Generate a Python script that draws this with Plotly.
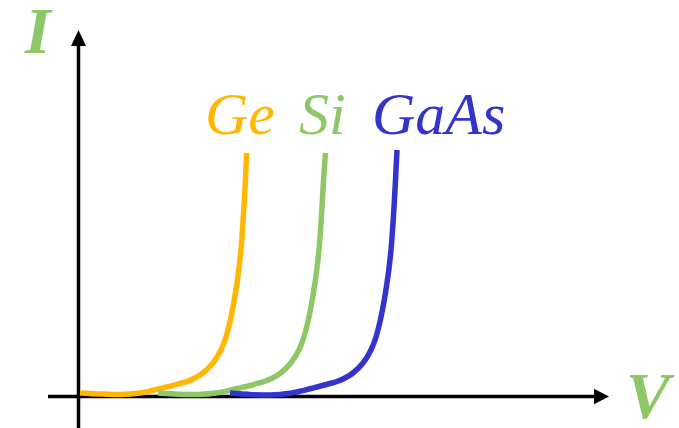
import plotly.graph_objects as go

# Forward-bias I-V characteristics (arbitrary units) for three diode materials
ge_v = [0.0075, 0.1075, 0.2075, 0.3075, 0.3575, 0.4075, 0.4425, 0.5075, 0.5425, 0.5825,
        0.6225, 0.6725, 0.7125, 0.7375, 0.7625, 0.7925, 0.8125, 0.824, 0.834, 0.841]
ge_i = [1.4, 1.0, 0.8, 1.4, 2.2, 3.2, 3.8, 5.2, 6.0, 7.4,
        9.4, 13.4, 18.6, 23.8, 31.8, 45.4, 58.6, 71.8, 85.4, 97.4]

si_v = [0.3975, 0.4975, 0.5975, 0.6975, 0.7475, 0.7975, 0.8325, 0.8975, 0.9325, 0.9725,
        1.0125, 1.0625, 1.1025, 1.1275, 1.1525, 1.1825, 1.2025, 1.2145, 1.2245, 1.2345]
si_i = [1.4, 0.9, 0.8, 1.5, 2.3, 3.3, 3.9, 5.3, 6.1, 7.5,
        9.5, 13.5, 18.7, 23.9, 31.9, 45.5, 58.7, 71.9, 85.5, 97.4]

gaas_v = [0.7575, 0.8575, 0.9575, 1.0575, 1.1075, 1.1575, 1.1925, 1.2575, 1.2925, 1.3325,
          1.3725, 1.4225, 1.4625, 1.4875, 1.5125, 1.5425, 1.5625, 1.5745, 1.5845, 1.5925]
gaas_i = [1.4, 0.8, 0.6, 1.3, 2.1, 3.1, 3.8, 5.2, 6.0, 7.4,
          9.4, 13.4, 18.6, 23.8, 31.8, 45.4, 58.6, 71.8, 85.8, 98.6]

series = [
    ("Ge", ge_v, ge_i, "#FFB703"),
    ("Si", si_v, si_i, "#8DC767"),
    ("GaAs", gaas_v, gaas_i, "#3434CC"),
]

AXIS_GREEN = "#8DC767"
X_RANGE = [-0.3925, 3.0025]
Y_RANGE = [-12.6, 158.6]

fig = go.Figure()

for name, v, i, color in series:
    fig.add_trace(go.Scatter(
        x=v, y=i, mode="lines", name=name,
        line=dict(color=color, width=5.5, shape="spline", smoothing=0.8),
        hoverinfo="skip", showlegend=False,
    ))

# Axis lines with arrowheads
shapes = [
    dict(type="line", xref="x", yref="y", x0=-0.1525, y0=0, x1=2.59, y1=0,
         line=dict(color="black", width=3.5), layer="below"),
    dict(type="line", xref="x", yref="y", x0=0, y0=-12.6, x1=0, y1=141,
         line=dict(color="black", width=3.5), layer="below"),
    dict(type="path", xref="x", yref="y",
         path="M 2.5775 -3.1 L 2.6525 0 L 2.5775 3.1 Z",
         fillcolor="black", line=dict(width=0)),
    dict(type="path", xref="x", yref="y",
         path="M -0.0375 140.2 L 0 146.6 L 0.0375 140.2 Z",
         fillcolor="black", line=dict(width=0)),
]

serif = "Liberation Serif"

annotations = [
    dict(x=-0.2025, y=146.5, xref="x", yref="y", text="I", showarrow=False,
         font=dict(family=serif, size=66, color=AXIS_GREEN, weight="bold", style="italic"),
         xanchor="center", yanchor="middle"),
    dict(x=2.86, y=0.5, xref="x", yref="y", text="V", showarrow=False,
         font=dict(family=serif, size=66, color=AXIS_GREEN, weight="bold", style="italic"),
         xanchor="center", yanchor="middle"),
]

label_pos = {"Ge": 0.6225, "Si": 1.0925, "GaAs": 1.4575}
for name, v, i, color in series:
    annotations.append(dict(
        x=label_pos[name], y=113, xref="x", yref="y", text=name,
        showarrow=False, font=dict(family=serif, size=60, color=color, style="italic"),
        xanchor="left", yanchor="middle",
    ))

fig.update_layout(
    width=679, height=428,
    margin=dict(l=0, r=0, t=0, b=0),
    paper_bgcolor="white", plot_bgcolor="white",
    xaxis=dict(range=X_RANGE, visible=False, fixedrange=True),
    yaxis=dict(range=Y_RANGE, visible=False, fixedrange=True),
    shapes=shapes, annotations=annotations,
)

fig.write_html("out.html")
